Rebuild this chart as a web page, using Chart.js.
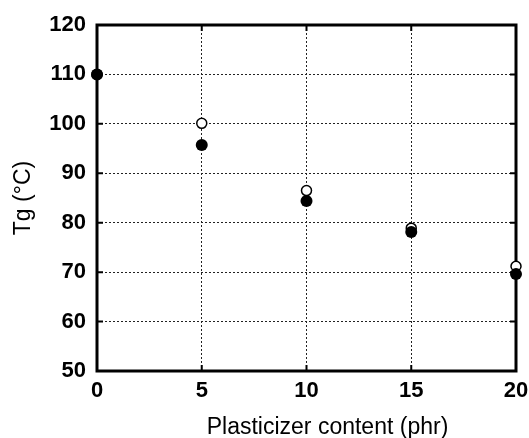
<!DOCTYPE html>
<html>
<head>
<meta charset="utf-8">
<script src="https://cdn.jsdelivr.net/npm/chart.js@4.4.0/dist/chart.umd.min.js"></script>
<style>
  html, body { margin: 0; padding: 0; background: #fff; }
  #wrap { width: 529px; height: 438px; }
</style>
</head>
<body>
<div id="wrap"><canvas id="tgChart"></canvas></div>
<script>
const content = [0, 5, 10, 15, 20];
const tgOpen = [110, 100.1, 86.5, 78.9, 71.2];
const tgFilled = [110, 95.7, 84.4, 78.1, 69.6];
const xTicks = [0, 5, 10, 15, 20];
const yTicks = [50, 60, 70, 80, 90, 100, 110, 120];
const xTitle = 'Plasticizer content (phr)';
const yTitle = 'Tg (°C)';

function toPoints(ys) {
    return content.map((x, i) => ({ x: x, y: ys[i] }));
}

const fontFamily = '"Liberation Sans", Arial, sans-serif';
const tickFont = { family: fontFamily, size: 22, weight: 'bold' };
const titleFont = { family: fontFamily, size: 23, weight: 'normal' };

// frame around the plot with short inward tick marks on all four sides
const framePlugin = {
    id: 'frame',
    beforeDatasetsDraw(chart) {
        const { ctx, chartArea: a, scales } = chart;
        ctx.save();
        ctx.strokeStyle = '#000';
        ctx.lineWidth = 2;
        const len = 6;
        xTicks.forEach(v => {
            const px = scales.x.getPixelForValue(v);
            ctx.beginPath();
            ctx.moveTo(px, a.bottom); ctx.lineTo(px, a.bottom - len);
            ctx.moveTo(px, a.top); ctx.lineTo(px, a.top + len);
            ctx.stroke();
        });
        yTicks.forEach(v => {
            const py = scales.y.getPixelForValue(v);
            ctx.beginPath();
            ctx.moveTo(a.left, py); ctx.lineTo(a.left + len, py);
            ctx.moveTo(a.right, py); ctx.lineTo(a.right - len, py);
            ctx.stroke();
        });
        ctx.lineWidth = 3;
        ctx.strokeRect(a.left, a.top, a.right - a.left, a.bottom - a.top);
        ctx.restore();
    },
    // x title sits a little right of the plot centre
    afterDraw(chart) {
        const { ctx, chartArea: a } = chart;
        ctx.save();
        ctx.fillStyle = '#000';
        ctx.font = titleFont.size + 'px ' + fontFamily;
        ctx.textAlign = 'center';
        ctx.textBaseline = 'alphabetic';
        ctx.fillText(xTitle, (a.left + a.right) / 2 + 21, chart.height - 4);
        ctx.restore();
    }
};

// hide grid lines that would sit on the frame
function gridColor(edges) {
    return c => (c.tick && edges.includes(c.tick.value)) ? 'rgba(0,0,0,0)' : '#222';
}

let ctx = document.getElementById('tgChart').getContext('2d');
var tgChart = new Chart(ctx, {         //eslint-disable-line
    type: 'scatter',
    data: {
        datasets: [{
            label: 'filled',
            data: toPoints(tgFilled),
            pointRadius: 6,
            pointBackgroundColor: '#000',
            pointBorderColor: '#000',
            pointBorderWidth: 0,
            order: 0,
            clip: false
        }, {
            label: 'open',
            data: toPoints(tgOpen),
            pointRadius: 5,
            pointBackgroundColor: '#fff',
            pointBorderColor: '#000',
            pointBorderWidth: 1.5,
            order: 1,
            clip: false
        }]
    },
    options: {
        responsive: true,
        maintainAspectRatio: false,
        animation: false,
        layout: { padding: { left: 0, top: 25, right: 13, bottom: 0 } },
        plugins: {
            legend: { display: false },
            tooltip: { enabled: false }
        },
        scales: {
            x: {
                type: 'linear',
                min: 0,
                max: 20,
                afterBuildTicks: scale => { scale.ticks = xTicks.map(v => ({ value: v })); },
                afterFit: scale => {
                    scale.height = 67;
                    scale.paddingLeft = 0;
                    scale.paddingRight = 0;
                },
                border: { display: false, dash: [2, 2] },
                grid: { drawTicks: false, color: gridColor([0, 20]), lineWidth: 1 },
                ticks: { color: '#000', font: tickFont, padding: 7, maxRotation: 0 },
                title: { display: false }
            },
            y: {
                type: 'linear',
                min: 50,
                max: 120,
                afterBuildTicks: scale => { scale.ticks = yTicks.map(v => ({ value: v })); },
                afterFit: scale => {
                    scale.width = 97;
                    scale.paddingTop = 0;
                    scale.paddingBottom = 0;
                },
                border: { display: false, dash: [2, 2] },
                grid: { drawTicks: false, color: gridColor([50, 120]), lineWidth: 1 },
                ticks: { color: '#000', font: tickFont, padding: 11 },
                title: {
                    display: true,
                    text: yTitle,
                    color: '#000',
                    font: titleFont,
                    padding: { top: 10, bottom: 0 }
                }
            }
        }
    },
    plugins: [framePlugin]
});
</script>
</body>
</html>
